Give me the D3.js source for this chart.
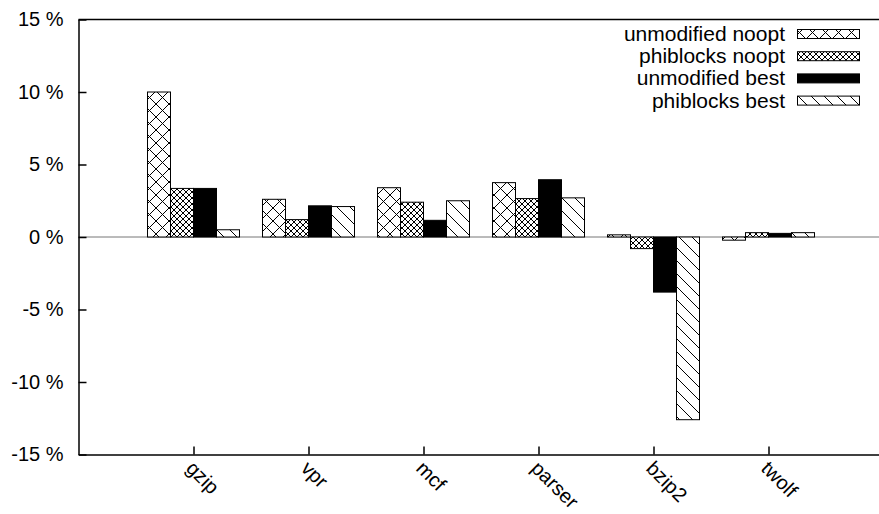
<!DOCTYPE html>
<html>
<head>
<meta charset="utf-8">
<script src="https://cdn.jsdelivr.net/npm/d3@7"></script>
<style>
body { margin: 0; background: white; }
svg { display: block; font-family: "Liberation Sans", Arial, sans-serif; }
</style>
</head>
<body>
<svg></svg>
<script>
var w = 879
var h = 514

var benchmarks = ["gzip", "vpr", "mcf", "parser", "bzip2", "twolf"]
var seriesNames = ["unmodified noopt", "phiblocks noopt", "unmodified best", "phiblocks best"]
var unmodNoopt = [10.0, 2.6, 3.4, 3.75, 0.15, -0.22]
var phibNoopt = [3.35, 1.2, 2.4, 2.65, -0.8, 0.3]
var unmodBest = [3.35, 2.15, 1.15, 3.95, -3.8, 0.25]
var phibBest = [0.5, 2.1, 2.5, 2.7, -12.6, 0.3]
var yTicks = [-15, -10, -5, 0, 5, 10, 15]

var seriesValues = [unmodNoopt, phibNoopt, unmodBest, phibBest]
var fills = ["url(#cross)", "url(#denseCross)", "black", "url(#diag)"]

var svg = d3.select("svg")
	.attr("width", w)
	.attr("height", h)

var defs = svg.append("defs")

function makePattern(id, size, lines) {
	var p = defs.append("pattern")
		.attr("id", id)
		.attr("patternUnits", "userSpaceOnUse")
		.attr("width", size)
		.attr("height", size)
	p.append("rect")
		.attr("width", size)
		.attr("height", size)
		.attr("fill", "white")
	lines.forEach(function(l){
		p.append("line")
			.attr("x1", l[0] * size).attr("y1", l[1] * size)
			.attr("x2", l[2] * size).attr("y2", l[3] * size)
			.attr("stroke", "black")
			.attr("stroke-width", 1)
	})
}

makePattern("cross", 13, [[0, 0, 1, 1], [1, 0, 0, 1]])
makePattern("denseCross", 6, [[0, 0, 1, 1], [1, 0, 0, 1]])
makePattern("diag", 13, [[0, 0, 1, 1], [-0.5, 0.5, 0.5, 1.5], [0.5, -0.5, 1.5, 0.5]])

var x = d3.scaleLinear()
	.domain([-1, 6])
	.range([78.5, 883.5])

var y = d3.scaleLinear()
	.domain([-15, 15])
	.range([454.5, 19.5])

// zero axis
svg.append("line")
	.attr("x1", x(-1)).attr("x2", x(6))
	.attr("y1", y(0)).attr("y2", y(0))
	.attr("stroke", "#777")
	.attr("stroke-width", 1)

var barW = 0.2

var bars = []
seriesValues.forEach(function(vals, j){
	vals.forEach(function(v, i){
		bars.push({s: j, i: i, v: v})
	})
})

svg.selectAll(".bar")
	.data(bars)
	.join("rect")
	.attr("class", "bar")
	.attr("x", function(d){ return x(d.i - 0.4 + barW * d.s) })
	.attr("width", function(d){ return x(barW) - x(0) })
	.attr("y", function(d){ return y(Math.max(0, d.v)) })
	.attr("height", function(d){ return Math.abs(y(d.v) - y(0)) })
	.attr("fill", function(d){ return fills[d.s] })
	.attr("stroke", "black")
	.attr("stroke-width", 1)

// frame
svg.append("line")
	.attr("x1", x(-1)).attr("x2", x(6))
	.attr("y1", y(15)).attr("y2", y(15))
	.attr("stroke", "black")
	.attr("stroke-width", 1.5)

var yAxis = svg.append("g")
	.attr("transform", "translate(" + x(-1) + ",0)")
	.call(d3.axisLeft(y)
		.tickValues(yTicks)
		.tickFormat(function(d){ return d + " %" })
		.tickSizeInner(-8)
		.tickSizeOuter(0)
		.tickPadding(15))

var xAxis = svg.append("g")
	.attr("transform", "translate(0," + y(-15) + ")")
	.call(d3.axisBottom(x)
		.tickValues(d3.range(benchmarks.length))
		.tickFormat(function(d){ return benchmarks[d] })
		.tickSizeInner(-8)
		.tickSizeOuter(0)
		.tickPadding(0))

svg.selectAll(".domain, .tick line")
	.attr("stroke", "black")
	.attr("stroke-width", 1.5)

yAxis.selectAll("text")
	.attr("font-size", 20)
	.attr("font-family", "Liberation Sans, Arial, sans-serif")
	.attr("fill", "black")

xAxis.selectAll("text")
	.attr("font-size", 20)
	.attr("font-family", "Liberation Sans, Arial, sans-serif")
	.attr("fill", "black")
	.attr("text-anchor", "start")
	.attr("dy", null)
	.attr("y", null)
	.attr("transform", "translate(-9,15) rotate(45)")

// legend
var legend = svg.append("g")

seriesNames.forEach(function(name, j){
	var cy = 34 + 22.2 * j
	legend.append("text")
		.attr("x", 785)
		.attr("y", cy + 7)
		.attr("text-anchor", "end")
		.attr("font-size", 21)
		.text(name)
	legend.append("rect")
		.attr("x", 797.5)
		.attr("y", cy - 4.5)
		.attr("width", 62)
		.attr("height", 9)
		.attr("fill", fills[j])
		.attr("stroke", "black")
		.attr("stroke-width", 1)
})
</script>
</body>
</html>
